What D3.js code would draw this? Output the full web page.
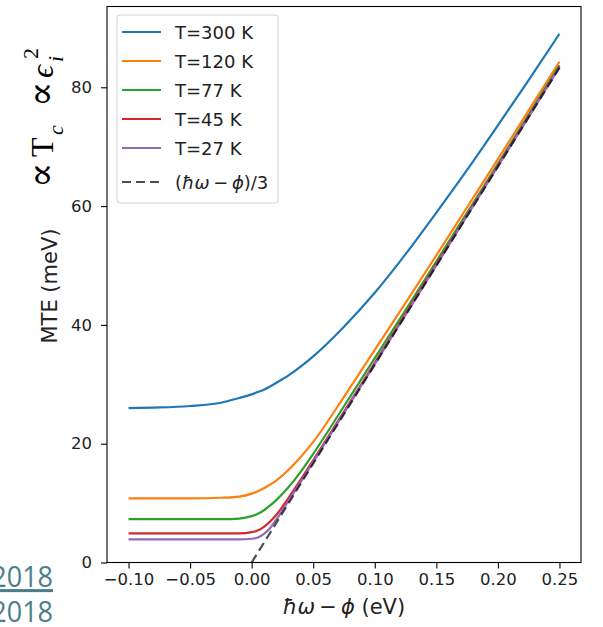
<!DOCTYPE html>
<html>
<head>
<meta charset="utf-8">
<script src="https://cdn.jsdelivr.net/npm/d3@7"></script>
<style>
  body { margin: 0; background: #fff; }
  text { font-family: "DejaVu Sans", sans-serif; }
</style>
</head>
<body>
<div id="chart"></div>
<script>
// photon excess energy (eV) and MTE (meV) per temperature
var excessEnergy = [-0.10, -0.075, -0.05, -0.025, -0.01, 0, 0.005, 0.01, 0.015, 0.02, 0.03, 0.04, 0.05, 0.075, 0.10, 0.125, 0.15, 0.175, 0.20, 0.225, 0.25];
var mte300 = [26.0, 26.1, 26.35, 26.9, 27.7, 28.3, 28.7, 29.1, 29.65, 30.25, 31.5, 33.0, 34.7, 39.7, 45.4, 51.9, 58.9, 66.1, 73.6, 81.2, 89.0];
var mte120 = [10.8, 10.8, 10.8, 10.9, 11.1, 11.6, 12.0, 12.5, 13.1, 13.8, 15.6, 17.8, 20.3, 27.9, 35.8, 43.7, 51.7, 59.8, 67.9, 76.1, 84.3];
var mte77 = [7.3, 7.3, 7.3, 7.3, 7.4, 7.8, 8.2, 8.8, 9.6, 10.5, 12.7, 15.3, 18.3, 26.3, 34.4, 42.5, 50.7, 58.9, 67.1, 75.4, 83.7];
var mte45 = [4.9, 4.9, 4.9, 4.9, 4.9, 5.1, 5.4, 6.0, 6.9, 8.0, 10.9, 14.0, 17.2, 25.4, 33.6, 41.9, 50.2, 58.5, 66.8, 75.1, 83.5];
var mte27 = [3.9, 3.9, 3.9, 3.9, 3.9, 4.0, 4.2, 4.8, 5.8, 7.2, 10.4, 13.6, 16.9, 25.2, 33.4, 41.7, 50.0, 58.4, 66.7, 75.0, 83.4];
var seriesLabels = ["T=300 K", "T=120 K", "T=77 K", "T=45 K", "T=27 K"];

// (hbar*omega - phi)/3 reference line
var limitX = [0, 0.25];
var limitY = [0, 83.3];

var xTicks = [-0.10, -0.05, 0.00, 0.05, 0.10, 0.15, 0.20, 0.25];
var yTicks = [0, 20, 40, 60, 80];

var colors = ["#1f77b4", "#ff7f0e", "#2ca02c", "#d62728", "#9467bd"];

var margin = { top: 6.5, left: 107 },
    width = 474,
    height = 556;

var svg = d3.select("#chart").append("svg")
    .attr("width", 603)
    .attr("height", 627);

var x = d3.scaleLinear().domain([-0.1175, 0.2675]).range([0, width]),
    y = d3.scaleLinear().domain([0, 93.6]).range([height, 0]);

var plot = svg.append("g")
    .attr("transform", "translate(" + margin.left + "," + margin.top + ")");

var series = [mte300, mte120, mte77, mte45, mte27].map(function (vals, i) {
    return {
        id: seriesLabels[i],
        color: colors[i],
        values: excessEnergy.map(function (e, j) { return { e: e, v: vals[j] }; })
    };
});

var line = d3.line()
    .x(function (d) { return x(d.e); })
    .y(function (d) { return y(d.v); })
    .curve(d3.curveMonotoneX);

plot.selectAll(".series")
    .data(series)
    .enter().append("path")
    .attr("class", "series")
    .attr("d", function (d) { return line(d.values); })
    .attr("fill", "none")
    .attr("stroke", function (d) { return d.color; })
    .attr("stroke-width", 2.2);

plot.append("path")
    .datum(limitX.map(function (e, i) { return { e: e, v: limitY[i] }; }))
    .attr("d", d3.line().x(function (d) { return x(d.e); }).y(function (d) { return y(d.v); }))
    .attr("fill", "none")
    .attr("stroke", "rgba(0,0,0,0.7)")
    .attr("stroke-width", 2.2)
    .attr("stroke-dasharray", "9,5");

// axes
var xAxis = d3.axisBottom(x).tickValues(xTicks).tickFormat(d3.format(".2f")).tickSize(6).tickPadding(5).tickSizeOuter(0);
var yAxis = d3.axisLeft(y).tickValues(yTicks).tickFormat(d3.format("d")).tickSize(6).tickPadding(9).tickSizeOuter(0);

var gx = plot.append("g").attr("transform", "translate(0," + height + ")").call(xAxis);
var gy = plot.append("g").call(yAxis);
[gx, gy].forEach(function (g) {
    g.select(".domain").remove();
    g.selectAll(".tick line").attr("stroke", "#000").attr("stroke-width", 1.1);
    g.selectAll(".tick text")
        .attr("fill", "#222")
        .style("font-size", "16.5px")
        .style("font-family", "DejaVu Sans, sans-serif");
});

plot.append("rect")
    .attr("width", width)
    .attr("height", height)
    .attr("fill", "none")
    .attr("stroke", "#000")
    .attr("stroke-width", 1.1);

// legend
var legend = plot.append("g").attr("transform", "translate(10,8.5)");
legend.append("rect")
    .attr("width", 161)
    .attr("height", 188)
    .attr("rx", 3)
    .attr("fill", "rgba(255,255,255,0.8)")
    .attr("stroke", "#d6d6d6")
    .attr("stroke-width", 1.1);

var rows = legend.selectAll(".row")
    .data(series)
    .enter().append("g")
    .attr("class", "row")
    .attr("transform", function (d, i) { return "translate(0," + (17 + i * 29) + ")"; });
rows.append("line")
    .attr("x1", 5).attr("x2", 44)
    .attr("stroke", function (d) { return d.color; })
    .attr("stroke-width", 2.2);
rows.append("text")
    .attr("x", 58)
    .attr("y", 6.5)
    .style("font-size", "18px")
    .attr("fill", "#222")
    .text(function (d) { return d.id; });

var lastRow = legend.append("g").attr("transform", "translate(0,167)");
lastRow.append("line")
    .attr("x1", 5).attr("x2", 44)
    .attr("stroke", "rgba(0,0,0,0.7)")
    .attr("stroke-width", 2.2)
    .attr("stroke-dasharray", "9,5");
var lt = lastRow.append("text").attr("x", 58).attr("y", 6.5).style("font-size", "18px").attr("fill", "#222");
lt.append("tspan").text("(");
lt.append("tspan").style("font-style", "italic").text("ħω");
lt.append("tspan").text("\u2009−\u2009");
lt.append("tspan").style("font-style", "italic").text("ϕ");
lt.append("tspan").text(")/3");

// axis labels
svg.append("text")
    .attr("transform", "translate(57,286) rotate(-90)")
    .attr("text-anchor", "middle")
    .style("font-size", "21px")
    .attr("fill", "#222")
    .text("MTE (meV)");

var xl = svg.append("text")
    .attr("x", 344)
    .attr("y", 614)
    .attr("text-anchor", "middle")
    .style("font-size", "21px")
    .attr("fill", "#222");
xl.append("tspan").style("font-style", "italic").text("ħω");
xl.append("tspan").text("\u2009−\u2009");
xl.append("tspan").style("font-style", "italic").text("ϕ");
xl.append("tspan").text(" (eV)");

// slide annotation, written bottom-to-top
var note = svg.append("text")
    .attr("transform", "translate(53,188) rotate(-90)")
    .style("font-family", "Liberation Serif, DejaVu Serif, serif")
    .attr("fill", "#000");
note.append("tspan").attr("x", 0).attr("y", 1).style("font-size", "38px").text("∝");
note.append("tspan").attr("x", 31).attr("y", 0).style("font-size", "32px").text("T");
note.append("tspan").attr("x", 53).attr("y", 10).style("font-size", "22px").style("font-style", "italic").text("c");
note.append("tspan").attr("x", 81).attr("y", 1).style("font-size", "38px").text("∝");
note.append("tspan").attr("x", 110).attr("y", 0).style("font-size", "32px").style("font-style", "italic").text("ϵ");
note.append("tspan").attr("x", 126).attr("y", 10).style("font-size", "22px").style("font-style", "italic").text("i");
note.append("tspan").attr("x", 129).attr("y", -15).style("font-size", "22px").text("2");

// cropped slide references (narrow face, partly off the left edge)
svg.append("text")
    .attr("transform", "translate(53,587) scale(0.9,1)")
    .attr("text-anchor", "end")
    .style("font-family", "Open Sans, sans-serif")
    .style("font-size", "30px")
    .style("text-decoration", "underline")
    .attr("fill", "#4b7d8a")
    .text("2018");
svg.append("text")
    .attr("transform", "translate(53,622) scale(0.9,1)")
    .attr("text-anchor", "end")
    .style("font-family", "Open Sans, sans-serif")
    .style("font-size", "30px")
    .attr("fill", "#4b7d8a")
    .text("2018");
</script>
</body>
</html>
